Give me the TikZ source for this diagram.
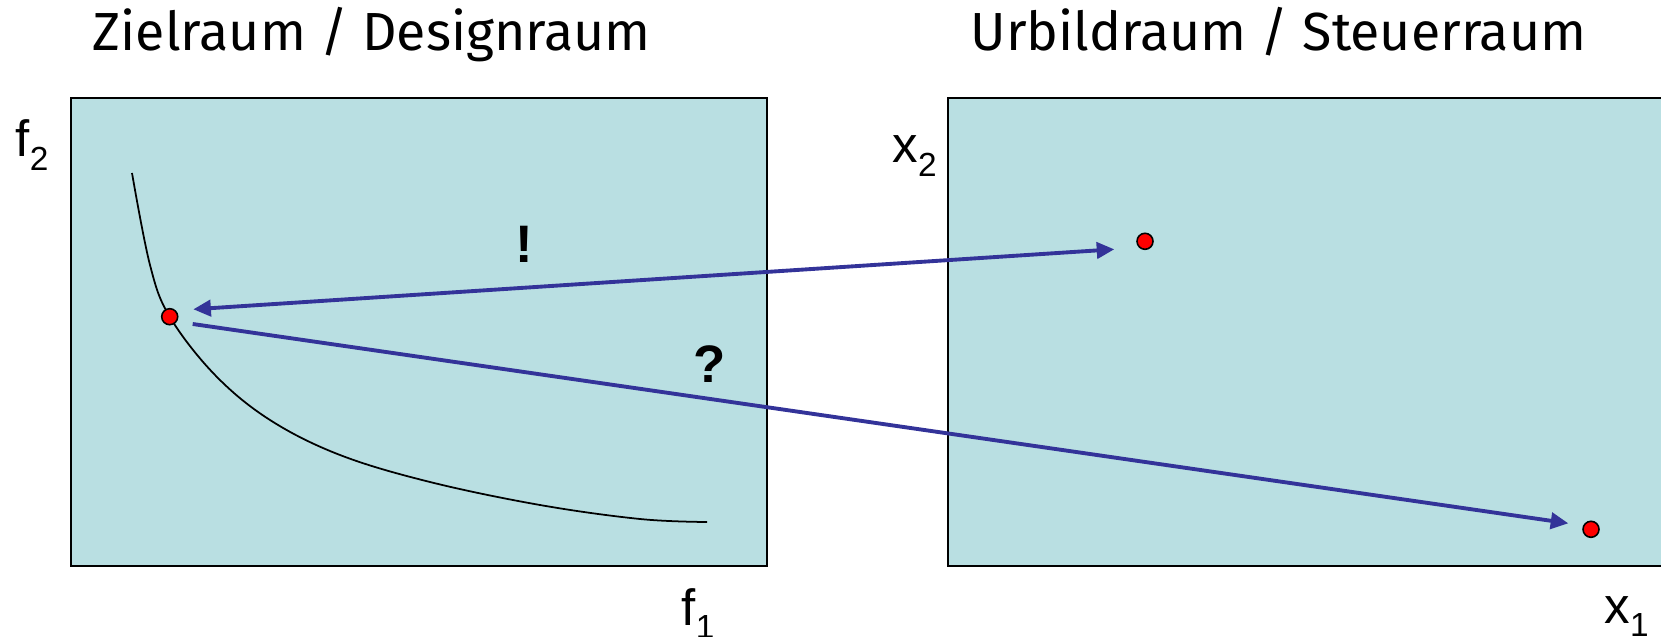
\documentclass[tikz,border=0pt]{standalone}
\usepackage{fontspec}
\setmainfont{Liberation Sans}
\newfontfamily\titlefont{Fira Sans}
\usetikzlibrary{arrows.meta}
\definecolor{colorBox}{HTML}{B9DFE2}
\definecolor{colorArrow}{HTML}{333399}
\definecolor{colorDot}{HTML}{FF0000}
\def\colorBox{colorBox}
\def\colorArrow{colorArrow}
\def\colorDot{colorDot}
\newcommand{\achsidx}[1]{\raisebox{-0.13cm}{\fontsize{9.5pt}{11pt}\selectfont #1}}

\begin{document}
\begin{tikzpicture}[x=0.01cm, y=-0.01cm,
  raum/.style={draw=black, line width=0.6pt, fill=\colorBox},
  punkt/.style={circle, draw=black, line width=0.45pt, fill=\colorDot, minimum size=0.16cm, inner sep=0pt},
  spitze/.style={-{Triangle[length=5pt, width=4.6pt]}},
  pfeil/.style={draw=\colorArrow, line width=1.1pt},
  achse/.style={inner sep=0pt, anchor=base west, font=\fontsize{14.5pt}{17pt}\selectfont},
  titel/.style={inner sep=0pt, anchor=base west, font=\titlefont\fontsize{15.25pt}{18pt}\selectfont},
  zeichen/.style={inner sep=0pt, anchor=base, font=\bfseries\fontsize{15pt}{18pt}\selectfont}]

  \useasboundingbox (0,0) rectangle (1661,637);

  % Raeume
  \draw[raum] (71,98) rectangle (767,566);
  \draw[raum] (948,98) rectangle (1665,566);

  \node[titel] (zielT) at (92,51) {Zielraum / Designraum};
  \node[titel] (urbT) at (970,51) {Urbildraum / Steuerraum};

  % Pareto-Front
  \draw[line width=0.5pt] plot[smooth, tension=0.6] coordinates {(132,173) (150,265) (169.7,316.7) (215,375) (270,420) (340,455) (430,482) (540,505) (640,519) (707,522)};

  \node[punkt] (dotZ) at (169.7,316.7) {};
  \node[punkt] (dotA) at (1145,241.3) {};
  \node[punkt] (dotB) at (1591,529.3) {};

  % Pfeile
  \path (dotZ) ++(23.6,-7.4) coordinate (zA);
  \path (dotZ) ++(23,7.3) coordinate (zB);
  \path (dotA) ++(-30.7,8) coordinate (aZ);
  \path (dotB) ++(-22.7,-6) coordinate (bZ);
  \draw[pfeil, {Triangle[length=5pt, width=4.6pt]}-{Triangle[length=5pt, width=4.6pt]}] (aZ) -- (zA);
  \draw[pfeil, spitze] (zB) -- (bZ);

  \node[zeichen] (ausruf) at (524,263) {!};
  \node[zeichen] (frage) at (710,383) {?};

  % Achsen
  \node[achse] (fzwei) at (15,157) {f\achsidx{2}};
  \node[achse] (xzwei) at (892,163) {x\achsidx{2}};
  \node[achse] (feins) at (681,625) {f\achsidx{1}};
  \node[achse] (xeins) at (1604,623) {x\achsidx{1}};

\end{tikzpicture}
\end{document}
